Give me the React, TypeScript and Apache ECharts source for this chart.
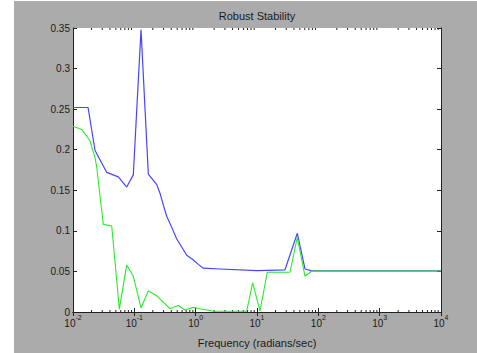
import React, { useEffect, useRef } from "react";
import * as echarts from "echarts";

const titleText = "Robust Stability";
const xAxisTitle = "Frequency (radians/sec)";

const blueFreq = [0.01, 0.0176, 0.0229, 0.0355, 0.0548, 0.0751, 0.0962, 0.1285, 0.169, 0.232, 0.262, 0.2965, 0.337, 0.406, 0.491, 0.592, 0.714, 0.916, 1.104, 1.33, 2.49, 10, 28.6, 45.4, 60.6, 78, 10000];
const blueVal = [0.252, 0.252, 0.199, 0.172, 0.1665, 0.154, 0.169, 0.348, 0.17, 0.157, 0.1464, 0.132, 0.118, 0.1046, 0.09, 0.0801, 0.07, 0.064, 0.0587, 0.054, 0.053, 0.051, 0.052, 0.097, 0.053, 0.0507, 0.0507];

const greenFreq = [0.01, 0.01387, 0.0189, 0.0229, 0.0243, 0.0312, 0.0428, 0.0569, 0.0751, 0.0962, 0.1285, 0.169, 0.232, 0.382, 0.521, 0.67, 0.916, 1.178, 1.94, 6.79, 8.51, 11.2, 14.7, 34.5, 45.4, 60.6, 78, 10000];
const greenVal = [0.229, 0.225, 0.211, 0.19, 0.179, 0.108, 0.106, 0.0036, 0.058, 0.044, 0.005, 0.026, 0.02, 0.004, 0.008, 0.0024, 0.0057, 0.004, 0.001, 0.001, 0.036, 0.001, 0.049, 0.049, 0.092, 0.044, 0.0505, 0.0505];

const decades = [0.01, 0.1, 1, 10, 100, 1000];
const minorMultipliers = [2, 3, 4, 5, 6, 7, 8, 9];

const X_MIN = 0.01;
const X_MAX = 10000;
const Y_MIN = 0;
const Y_MAX = 0.35;
const Y_STEP = 0.05;

export default function App() {
  const ref = useRef<HTMLDivElement>(null);
  useEffect(() => {
    if (!ref.current) return;
    const chart = echarts.init(ref.current, null, { renderer: "svg" });
    const minorData: number[][] = [];
    decades.forEach((d) => minorMultipliers.forEach((m) => minorData.push([d * m, 0])));
    const axisColor = "#222";
    const labelColor = "#1a1a1a";
    const font = "Liberation Sans, Arial, sans-serif";
    chart.setOption({
      animation: false,
      backgroundColor: "#ffffff",
      graphic: [
        { type: "rect", z: -10, silent: true, shape: { x: 14, y: 1, width: 463, height: 352 }, style: { fill: "#ababab" } },
        {
          type: "text",
          x: 257,
          y: 16,
          style: { text: titleText, fontSize: 11, fontFamily: font, fill: labelColor, textAlign: "center", textVerticalAlign: "middle" },
        },
      ],
      grid: { left: 73, top: 28, width: 368, height: 290, show: true, backgroundColor: "#ffffff", borderWidth: 0 },
      xAxis: [
        {
          type: "log",
          logBase: 10,
          min: X_MIN,
          max: X_MAX,
          position: "bottom",
          axisLine: { show: true, lineStyle: { color: axisColor, width: 1 } },
          axisTick: { show: true, inside: true, length: 4, lineStyle: { color: axisColor } },
          splitLine: { show: false },
          axisLabel: {
            margin: 2,
            color: labelColor,
            fontFamily: font,
            formatter: (v: number) => `{b|10}{e|${Math.round(Math.log10(v))}}`,
            rich: {
              b: { fontSize: 10, fontFamily: font, color: labelColor, lineHeight: 14, verticalAlign: "bottom" },
              e: { fontSize: 7, fontFamily: font, color: labelColor, lineHeight: 8, verticalAlign: "top" },
            },
          },
          name: xAxisTitle,
          nameLocation: "middle",
          nameGap: 25,
          nameTextStyle: { fontSize: 11, fontFamily: font, color: labelColor },
        },
        {
          type: "log",
          logBase: 10,
          min: X_MIN,
          max: X_MAX,
          position: "top",
          axisLine: { show: true, lineStyle: { color: axisColor, width: 1 } },
          axisTick: { show: true, inside: true, length: 4, lineStyle: { color: axisColor } },
          splitLine: { show: false },
          axisLabel: { show: false },
        },
      ],
      yAxis: [
        {
          type: "value",
          min: Y_MIN,
          max: Y_MAX,
          interval: Y_STEP,
          position: "left",
          axisLine: { show: true, lineStyle: { color: axisColor, width: 1 } },
          axisTick: { show: true, inside: true, length: 4, lineStyle: { color: axisColor } },
          splitLine: { show: false },
          axisLabel: { margin: 3, fontSize: 10, fontFamily: font, color: labelColor, formatter: (v: number) => String(Number(v.toFixed(2))) },
        },
        {
          type: "value",
          min: Y_MIN,
          max: Y_MAX,
          interval: Y_STEP,
          position: "right",
          axisLine: { show: true, lineStyle: { color: axisColor, width: 1 } },
          axisTick: { show: true, inside: true, length: 4, lineStyle: { color: axisColor } },
          splitLine: { show: false },
          axisLabel: { show: false },
        },
      ],
      series: [
        {
          type: "custom",
          xAxisIndex: 0,
          yAxisIndex: 0,
          data: minorData,
          clip: false,
          silent: true,
          renderItem: (params: any, api: any) => {
            const f = api.value(0);
            const pb = api.coord([f, Y_MIN]);
            const pt = api.coord([f, Y_MAX]);
            return {
              type: "group",
              children: [
                { type: "line", shape: { x1: pb[0], y1: pb[1], x2: pb[0], y2: pb[1] - 2 }, style: { stroke: axisColor, lineWidth: 1 } },
                { type: "line", shape: { x1: pt[0], y1: pt[1], x2: pt[0], y2: pt[1] + 2 }, style: { stroke: axisColor, lineWidth: 1 } },
              ],
            };
          },
        },
        {
          type: "line",
          xAxisIndex: 0,
          yAxisIndex: 0,
          data: blueFreq.map((f, i) => [f, blueVal[i]]),
          showSymbol: false,
          symbol: "none",
          lineStyle: { color: "#4545ff", width: 1.2 },
          z: 3,
        },
        {
          type: "line",
          xAxisIndex: 0,
          yAxisIndex: 0,
          data: greenFreq.map((f, i) => [f, greenVal[i]]),
          showSymbol: false,
          symbol: "none",
          lineStyle: { color: "#2ee82e", width: 1.1 },
          z: 4,
        },
      ],
    });
    return () => chart.dispose();
  }, []);
  return <div ref={ref} style={{ position: "absolute", left: 0, top: 0, width: 477, height: 353 }} />;
}
